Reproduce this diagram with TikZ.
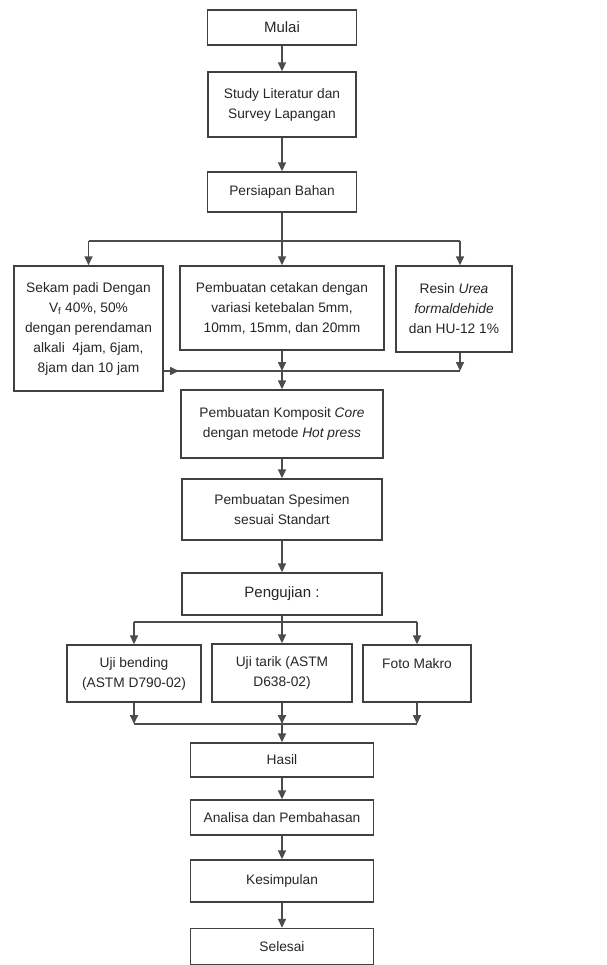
\documentclass[tikz,border=0pt]{standalone}
\usepackage{fontspec}
\setmainfont{Liberation Sans}
\usetikzlibrary{arrows.meta}
\usetikzlibrary{positioning}

\tikzset{
  kotak/.style={draw=black!75, line width=1.4pt, align=center, text=black!85,
    font=\fontsize{13.75}{20}\selectfont, inner sep=2pt},
  besar/.style={font=\fontsize{15}{20}\selectfont},
  garis/.style={draw=black!70, line width=1.6pt},
  panah/.style={garis, -{Triangle[width=8pt,length=9pt]}},
}

\begin{document}
\begin{tikzpicture}[x=1pt,y=-1pt]
  \useasboundingbox (0,0) rectangle (606,965);

  \node[kotak, besar, minimum width=149pt, minimum height=35pt] (mulai) at (282,27.5) {Mulai};
  \node[kotak, minimum width=148pt, minimum height=65pt] (study) at (282,104.5) {Study Literatur dan\\Survey Lapangan};
  \node[kotak, minimum width=149pt, minimum height=40pt] (persiapan) at (282,192) {Persiapan Bahan};

  \node[kotak, minimum width=149pt, minimum height=125pt] (sekam) at (88.5,328.5) {Sekam padi Dengan\\V\textsubscript{f} 40\%, 50\%\\dengan perendaman\\alkali~ 4jam, 6jam,\\8jam dan 10 jam};
  \node[kotak, minimum width=204pt, minimum height=84pt] (cetakan) at (282,308) {Pembuatan cetakan dengan\\variasi ketebalan 5mm,\\10mm, 15mm, dan 20mm};
  \node[kotak, minimum width=116pt, minimum height=86pt] (resin) at (454,309) {Resin \textit{Urea}\\\textit{formaldehide}\\dan HU-12 1\%};

  \node[kotak, minimum width=202pt, minimum height=68pt] (komposit) at (282,424) {Pembuatan Komposit \textit{Core}\\dengan metode \textit{Hot press}};
  \node[kotak, minimum width=200pt, minimum height=61pt] (spesimen) at (282,509.5) {Pembuatan Spesimen\\sesuai Standart};
  \node[kotak, besar, minimum width=200pt, minimum height=42pt] (pengujian) at (282,594) {Pengujian :};

  \node[kotak, minimum width=134pt, minimum height=57pt] (bending) at (134,673.5) {Uji bending\\(ASTM D790-02)};
  \node[kotak, minimum width=140pt, minimum height=58pt] (tarik) at (282,673) {Uji tarik (ASTM\\D638-02)};
  \node[kotak, minimum width=108pt, minimum height=57pt] (foto) at (417,673.5) {Foto Makro\\\phantom{M}};

  \node[kotak, minimum width=183pt, minimum height=34pt] (hasil) at (282,760) {Hasil};
  \node[kotak, minimum width=183pt, minimum height=35pt] (analisa) at (282,817.5) {Analisa dan Pembahasan};
  \node[kotak, minimum width=183pt, minimum height=42pt] (kesimpulan) at (282,881) {Kesimpulan};
  \node[kotak, minimum width=183pt, minimum height=36pt] (selesai) at (282,946.5) {Selesai};

  \coordinate (c1) at (282,241);
  \coordinate (c1l) at (88.5,241);
  \coordinate (c1r) at (460,241);
  \coordinate (m1) at (282,371);
  \coordinate (m1a) at (179,371);
  \coordinate (m1r) at (460,371);
  \coordinate (c2) at (282,622);
  \coordinate (c2l) at (134,622);
  \coordinate (c2r) at (417,622);
  \coordinate (m2) at (282,724);
  \coordinate (m2l) at (134,724);
  \coordinate (m2r) at (417,724);

  \draw[panah] (mulai) -- (study);
  \draw[panah] (study) -- (persiapan);

  \draw[garis] (persiapan) -- (c1);
  \draw[garis] (c1l) -- (c1r);
  \draw[panah] (c1l) -- (sekam);
  \draw[panah] (c1) -- (cetakan);
  \draw[panah] (c1r) -- (c1r |- resin.north);

  \draw[garis] (sekam.east |- m1) -- (m1r);
  \draw[panah] (sekam.east |- m1) -- (m1a);
  \draw[panah] (m1r |- resin.south) -- (m1r);
  \draw[panah] (cetakan) -- (m1);
  \draw[panah] (m1) -- (komposit);

  \draw[panah] (komposit) -- (spesimen);
  \draw[panah] (spesimen) -- (pengujian);

  \draw[garis] (pengujian) -- (c2);
  \draw[garis] (c2l) -- (c2r);
  \draw[panah] (c2l) -- (bending);
  \draw[panah] (c2) -- (tarik);
  \draw[panah] (c2r) -- (foto);

  \draw[panah] (bending) -- (m2l);
  \draw[panah] (tarik) -- (m2);
  \draw[panah] (foto) -- (m2r);
  \draw[garis] (m2l) -- (m2r);
  \draw[panah] (m2) -- (hasil);

  \draw[panah] (hasil) -- (analisa);
  \draw[panah] (analisa) -- (kesimpulan);
  \draw[panah] (kesimpulan) -- (selesai);
\end{tikzpicture}
\end{document}
